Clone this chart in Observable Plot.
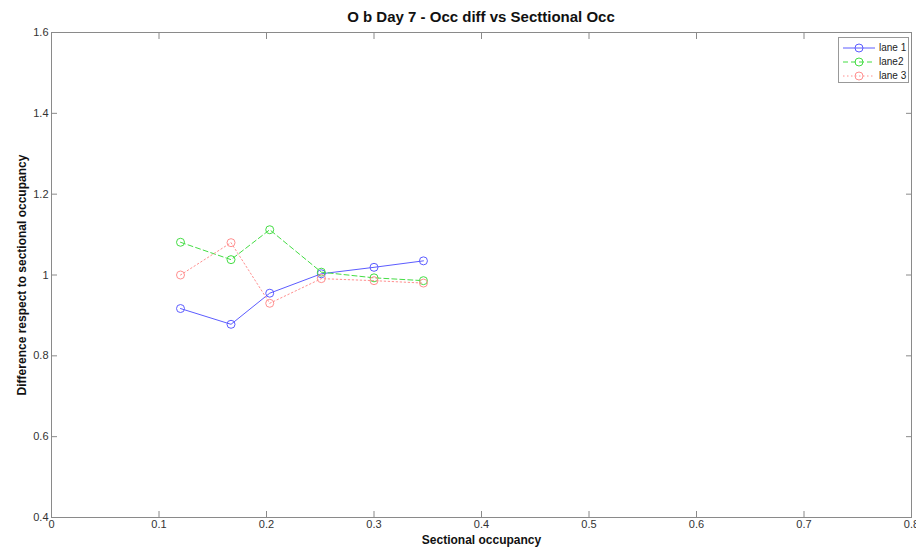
<!DOCTYPE html>
<html>
<head>
<meta charset="utf-8">
<script src="https://cdn.jsdelivr.net/npm/d3@7"></script>
<script src="https://cdn.jsdelivr.net/npm/@observablehq/plot@0.6"></script>
<style>
  html, body { margin: 0; padding: 0; background: #fff; }
  #wrap { position: relative; width: 916px; height: 549px; font-family: "Liberation Sans", Arial, sans-serif; }
  #title { height: 24px; line-height: 34px; text-align: center; font-weight: bold; font-size: 15px; color: #111; padding-left: 51px; padding-right: 5px; box-sizing: border-box; white-space: nowrap; }
  #legend { position: absolute; left: 838px; top: 37px; width: 71px; height: 46px; border: 1px solid #999; background: #fff; box-sizing: border-box; font-size: 10px; color: #222; }
  .row { position: absolute; left: 0; height: 14px; width: 100%; }
  .row svg { position: absolute; left: 3px; top: 0; }
  .row span { position: absolute; left: 40px; top: 1px; }
</style>
</head>
<body>
<div id="wrap">
  <div id="title">O b Day 7 - Occ diff vs Secttional Occ</div>
  <div id="plot"></div>
  <div id="legend"></div>
</div>
<script>
const occupancy = [0.120, 0.167, 0.203, 0.251, 0.300, 0.346];
const lane1 = [0.917, 0.878, 0.955, 1.003, 1.019, 1.035];
const lane2 = [1.081, 1.038, 1.112, 1.007, 0.993, 0.986];
const lane3 = [1.000, 1.080, 0.930, 0.991, 0.986, 0.980];
const seriesNames = ["lane 1", "lane2", "lane 3"];
const seriesColors = ["#5c5cff", "#44dd44", "#ff9090"];
const seriesDash = [null, "5,3", "1.5,2.5"];
const xTicks = [0, 0.1, 0.2, 0.3, 0.4, 0.5, 0.6, 0.7, 0.8];
const yTicks = [0.4, 0.6, 0.8, 1.0, 1.2, 1.4, 1.6];

const allSeries = [lane1, lane2, lane3];
const rows = [];
allSeries.forEach((vals, s) => vals.forEach((v, i) => rows.push({lane: seriesNames[s], x: occupancy[i], y: v})));

const axisColor = "#8a8a8a";
const fmt = d => String(+d.toFixed(1));

const lineMarks = allSeries.map((vals, s) => [
  Plot.line(rows.filter(r => r.lane === seriesNames[s]), {x: "x", y: "y", stroke: seriesColors[s], strokeWidth: 1, strokeDasharray: seriesDash[s]}),
  Plot.dot(rows.filter(r => r.lane === seriesNames[s]), {x: "x", y: "y", stroke: seriesColors[s], r: 4, strokeWidth: 1, fill: "none"})
]).flat();

const chart = Plot.plot({
  width: 916,
  height: 525,
  marginLeft: 51,
  marginRight: 5,
  marginTop: 8,
  marginBottom: 32,
  style: {fontFamily: "'Liberation Sans', Arial, sans-serif", fontSize: "11px", color: "#333", background: "#fff"},
  x: {domain: [0, 0.8]},
  y: {domain: [0.4, 1.6]},
  marks: [
    Plot.frame({stroke: axisColor}),
    Plot.axisX({anchor: "bottom", ticks: xTicks, tickFormat: fmt, tickSize: -6, tickPadding: 9, stroke: axisColor, fill: "#333", label: null}),
    Plot.axisX({anchor: "top", ticks: xTicks, tickFormat: () => "", tickSize: -6, stroke: axisColor, label: null}),
    Plot.axisY({anchor: "left", ticks: yTicks, tickFormat: fmt, tickSize: -6, tickPadding: 9, stroke: axisColor, fill: "#333", label: null}),
    Plot.axisY({anchor: "right", ticks: yTicks, tickFormat: () => "", tickSize: -6, stroke: axisColor, label: null}),
    ...lineMarks,
    Plot.text(["Sectional occupancy"], {frameAnchor: "bottom", dy: 26, fontWeight: "bold", fontSize: 12, fill: "#111"}),
    Plot.text(["Difference respect to sectional occupancy"], {frameAnchor: "left", textAnchor: "middle", dx: -29, rotate: -90, fontWeight: "bold", fontSize: 12, fill: "#111"})
  ]
});
document.getElementById("plot").appendChild(chart);

const legend = document.getElementById("legend");
seriesNames.forEach((name, s) => {
  const row = document.createElement("div");
  row.className = "row";
  row.style.top = (3 + s * 14) + "px";
  const dash = seriesDash[s] ? `stroke-dasharray="${seriesDash[s]}"` : "";
  row.innerHTML = `<svg width="34" height="14"><line x1="1" y1="7" x2="33" y2="7" stroke="${seriesColors[s]}" stroke-width="1" ${dash}/><circle cx="17" cy="7" r="4" fill="none" stroke="${seriesColors[s]}"/></svg><span>${name}</span>`;
  legend.appendChild(row);
});
</script>
</body>
</html>
